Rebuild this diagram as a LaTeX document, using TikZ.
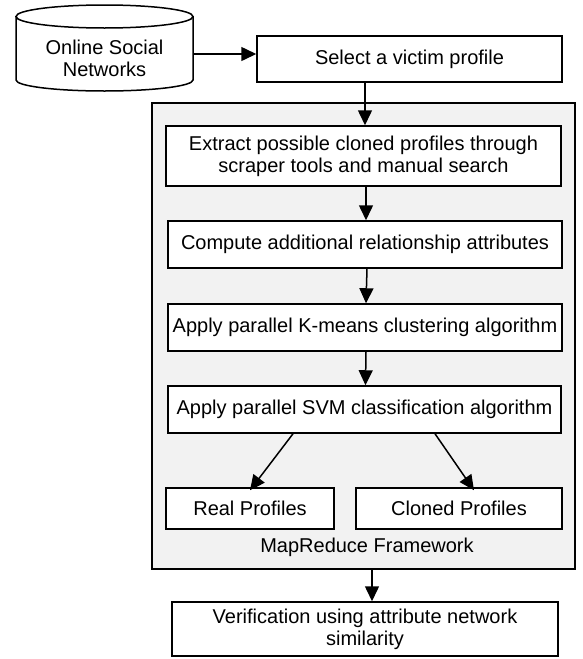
\documentclass[tikz,border=0pt]{standalone}
\usepackage{fontspec}
\setmainfont{Liberation Sans}
\usetikzlibrary{arrows.meta}
\definecolor{framegrey}{HTML}{F2F2F2}
\begin{document}
\begin{tikzpicture}[x=1pt,y=-1pt,
  every node/.style={font=\fontsize{20}{22}\selectfont},
  stepbox/.style={draw=black, line width=1.5pt, fill=white, inner sep=0pt, align=center},
  arr/.style={line width=1.5pt, -{Triangle[length=15pt,width=14pt]}},
  line/.style={line width=1.5pt}]
\useasboundingbox (0,0) rectangle (582,659);
% cylinder
\draw[line, fill=white] (16,16.5) -- (16,80) arc[start angle=180,end angle=0,x radius=88.5,y radius=11] -- (193,16.5);
\draw[line, fill=white] (104.5,16.5) ellipse[x radius=88.5, y radius=11.5];
\node[align=center, inner sep=0pt] (osn) at (104.5,58.5) {Online Social\\Networks};
\coordinate (osnE) at (193,54);
% select box
\node[stepbox, minimum width=305pt, minimum height=46pt] (sel) at (409.5,59) {Select a victim profile};
% frame
\node[draw=black, line width=1.5pt, fill=framegrey, minimum width=423pt, minimum height=466pt, inner sep=0pt] (frame) at (363.5,336) {};
\node[stepbox, minimum width=395pt, minimum height=60pt] (ext) at (363.5,156) {Extract possible cloned profiles through\\scraper tools and manual search};
\node[stepbox, minimum width=394pt, minimum height=47pt] (comp) at (365,244.5) {Compute additional relationship attributes};
\node[stepbox, minimum width=394pt, minimum height=47pt] (km) at (365,327.5) {Apply parallel K-means clustering algorithm};
\node[stepbox, minimum width=393pt, minimum height=47pt] (svm) at (364.5,409.5) {Apply parallel SVM classification algorithm};
\node[stepbox, minimum width=168pt, minimum height=41pt] (real) at (250,508.5) {Real Profiles};
\node[stepbox, minimum width=206pt, minimum height=41pt] (clon) at (459,508.5) {Cloned Profiles};
\node[inner sep=0pt] (mrf) at (367,547) {MapReduce Framework};
\node[stepbox, minimum width=386pt, minimum height=54pt] (ver) at (365,629) {Verification using attribute network\\similarity};
% connectors
\draw[arr] (osnE) -- (osnE -| sel.west);
\draw[arr] ([xshift=1.5pt]ext.north |- sel.south) -- ([xshift=1.5pt]ext.north);
\draw[arr] ([xshift=2.5pt]ext.south) -- ([xshift=1pt]comp.north);
\draw[arr] ([xshift=2pt]comp.south) -- ([xshift=1pt]km.north);
\draw[arr] ([xshift=1pt]km.south) -- ([xshift=1pt]svm.north);
\draw[arr] ([xshift=-71.5pt]svm.south) -- ([yshift=-3pt]real.north);
\draw[arr] ([xshift=70.5pt]svm.south) -- ([xshift=15pt,yshift=-3pt]clon.north);
\draw[arr] ([xshift=7pt]ver.north |- frame.south) -- ([xshift=7pt]ver.north);
\end{tikzpicture}
\end{document}
